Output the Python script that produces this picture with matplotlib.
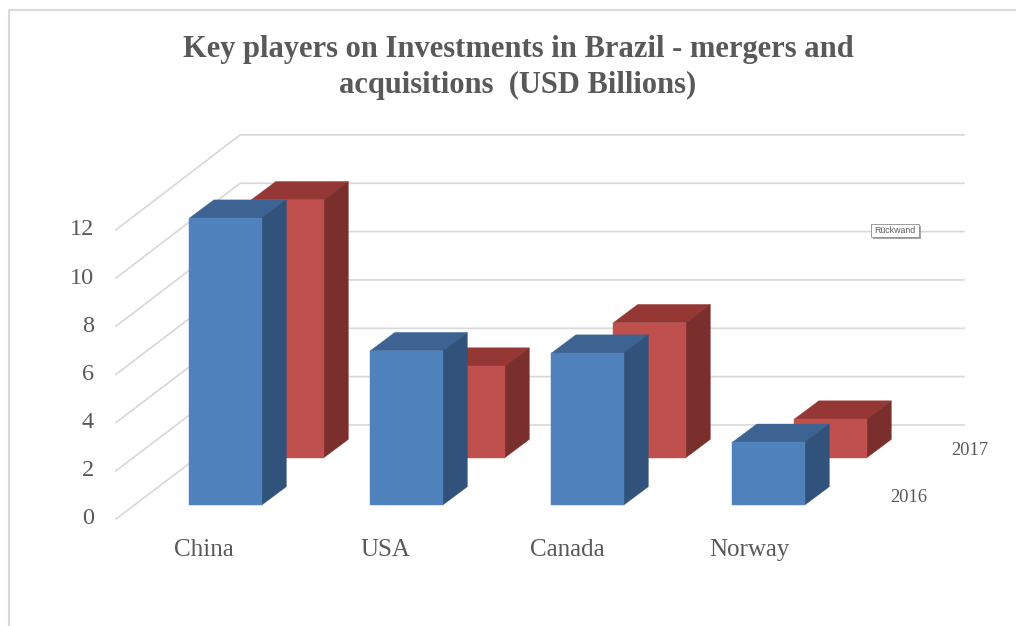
#!/usr/bin/env python
import matplotlib
matplotlib.use("Agg")
import matplotlib.pyplot as plt
from matplotlib.patches import Polygon, Rectangle

TITLE = "Key players on Investments in Brazil - mergers and\nacquisitions  (USD Billions)"
CATEGORIES = ["China", "USA", "Canada", "Norway"]
SERIES = ["2016", "2017"]
VALUES_2016 = [11.9, 6.4, 6.3, 2.6]
VALUES_2017 = [10.7, 3.8, 5.6, 1.6]
Y_TICKS = [0, 2, 4, 6, 8, 10, 12]

# Layout in pixels of the 1016x626 picture
UNIT = 24.1          # pixels per billion
FLOOR_X, FLOOR_Y = 116, 519
BACK_X, BACK_Y = 240, 425
RIGHT_X = 964
BAR_X0, BAR_STEP, BAR_W = 189.3, 181, 72.5
DEPTH_X, DEPTH_Y = 24.5, -18.3

GRID = "#d9d9d9"
TEXT = "#595959"
SERIF = ["Liberation Serif", "DejaVu Serif"]


def draw_bar(ax, x0, base, value, front, top, side):
    x1 = x0 + BAR_W
    y_top = base - value * UNIT
    ax.add_patch(Polygon([(x0, y_top), (x0 + DEPTH_X, y_top + DEPTH_Y), (x1 + DEPTH_X, y_top + DEPTH_Y), (x1, y_top)],
                         facecolor=top, edgecolor=top, lw=0.3, zorder=3))
    ax.add_patch(Polygon([(x1, base), (x1 + DEPTH_X, base + DEPTH_Y), (x1 + DEPTH_X, y_top + DEPTH_Y), (x1, y_top)],
                         facecolor=side, edgecolor=side, lw=0.3, zorder=3))
    ax.add_patch(Rectangle((x0, y_top), BAR_W, value * UNIT, facecolor=front, edgecolor=front, lw=0.3, zorder=3))


fig = plt.figure(figsize=(10.16, 6.26), dpi=100)
ax = fig.add_axes([0, 0, 1, 1])
ax.set_xlim(0, 1016)
ax.set_ylim(626, 0)
ax.axis("off")

# Outer chart border
ax.plot([1016, 9, 9], [10, 10, 626], color=GRID, lw=1.5)

# Grid on side wall and back wall
for v in Y_TICKS:
    y_front = FLOOR_Y - v * UNIT
    y_back = BACK_Y - v * UNIT * 1.003
    ax.plot([FLOOR_X, BACK_X, RIGHT_X], [y_front, y_back, y_back], color=GRID, lw=1.25,
            solid_joinstyle="miter", zorder=1)
    ax.text(94, y_front, str(v), ha="right", va="center", fontsize=17.5, color=TEXT, family=SERIF)

# Back row first, the 2016 row stands in front of it
for i, v in enumerate(VALUES_2017):
    draw_bar(ax, BAR_X0 + i * BAR_STEP + 62, 457.7, v, "#c0504d", "#953735", "#7b2f2d")
for i, v in enumerate(VALUES_2016):
    draw_bar(ax, BAR_X0 + i * BAR_STEP, 505, v, "#4f81bd", "#3c6392", "#31527a")

for i, name in enumerate(CATEGORIES):
    ax.text(204 + i * 181.7, 550, name, ha="center", va="center", fontsize=18, color=TEXT, family=SERIF)

ax.text(908.5, 497, SERIES[0], ha="center", va="center", fontsize=13.3, color=TEXT, family=SERIF)
ax.text(970, 450.5, SERIES[1], ha="center", va="center", fontsize=13.3, color=TEXT, family=SERIF)

ax.text(518, 67.5, TITLE, ha="center", va="center", fontsize=22, fontweight="bold", color=TEXT,
        family=SERIF, linespacing=1.32)

# Tooltip left in the screenshot
ax.add_patch(Rectangle((873, 226), 48, 13, facecolor="#a6a6a6", edgecolor="none", zorder=5))
ax.add_patch(Rectangle((871, 224), 48, 13, facecolor="white", edgecolor="#8c8c8c", lw=0.6, zorder=6))
ax.text(895, 230.5, "Rückwand", ha="center", va="center", fontsize=6.3, color="#595959", zorder=7,
        family="Liberation Sans")

fig.savefig("out.png", dpi=100)
